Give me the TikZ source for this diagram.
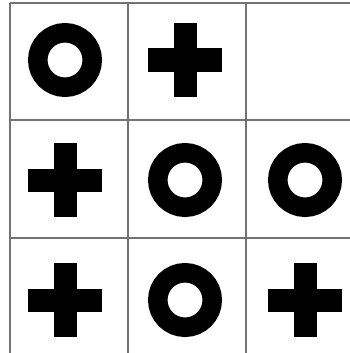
\documentclass[tikz,border=0pt]{standalone}
\usepackage{tikz}
\begin{document}
\begin{tikzpicture}[x=1pt,y=-1pt]
\useasboundingbox (0,0) rectangle (350,353);
\fill[white] (0,0) rectangle (350,353);
% grid
\foreach \gx in {10,128,246} \draw[black!55, line width=1.3] (\gx,3) -- (\gx,353);
\foreach \gy in {3,120,238} \draw[black!55, line width=1.3] (10,\gy) -- (350,\gy);
% rings
\foreach \cx/\cy in {65/60,185/180,305/180,185/300}
  \draw[line width=19.5] (\cx,\cy) circle[radius=27.25pt];
% crosses
\foreach \cx/\cy in {185/60,65/180,65/300,305/300} {
  \fill ({\cx-37},{\cy-11.5}) rectangle ({\cx+37},{\cy+11.5});
  \fill ({\cx-11.5},{\cy-37}) rectangle ({\cx+11.5},{\cy+37});
}
\end{tikzpicture}
\end{document}
